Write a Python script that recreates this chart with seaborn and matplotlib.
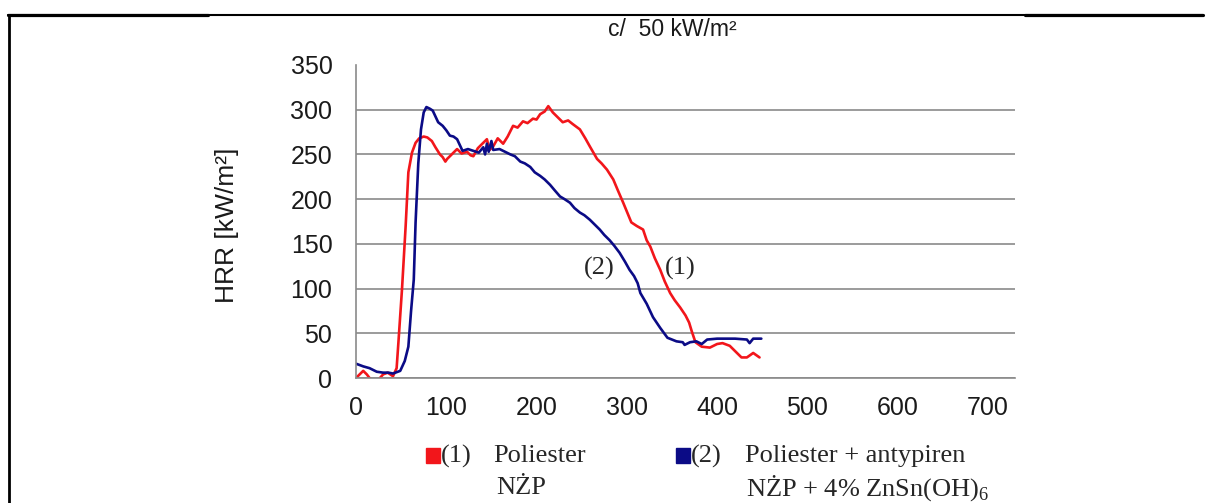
import matplotlib
matplotlib.use("Agg")
import matplotlib.pyplot as plt
import seaborn as sns
from matplotlib.lines import Line2D
from matplotlib.patches import Rectangle

# ============================================
# DATA
# ============================================

# (1) Poliester NZP
time_1 = [0, 4, 8, 12, 15, 19, 24, 30, 35, 41, 45, 47, 51, 55, 58, 62, 66, 70,
          75, 79, 84, 88, 93, 96, 99, 101, 106, 112, 117, 123, 127, 130, 135,
          140, 145, 148, 152, 157, 163, 168, 174, 179, 185, 190, 196, 200, 204,
          209, 213, 218, 223, 229, 235, 240, 244, 248, 254, 259, 263, 267, 272,
          278, 285, 290, 296, 305, 311, 318, 322, 326, 331, 337, 342, 348, 353,
          359, 365, 369, 372, 376, 383, 392, 400, 406, 414, 422, 427, 433, 440,
          447]
hrr_1 = [0, 4, 8, 4, 0, -3, -3, 4, 6, 2, 11, 40, 100, 170, 230, 252, 263, 268,
         270, 269, 265, 258, 250, 247, 242, 245, 250, 256, 251, 253, 249, 248,
         257, 262, 267, 255, 259, 268, 262, 270, 282, 280, 287, 285, 290, 289,
         295, 298, 304, 297, 292, 286, 288, 284, 281, 278, 268, 259, 252, 245,
         240, 233, 222, 210, 196, 174, 170, 166, 154, 147, 134, 121, 108, 95,
         87, 79, 70, 62, 52, 40, 35, 34, 38, 39, 36, 28, 23, 23, 28, 23]

# (2) Poliester + antypiren NZP + 4% ZnSn(OH)6
time_2 = [0, 8, 15, 23, 30, 36, 41, 49, 54, 58, 61, 64, 66, 69, 72, 75, 78, 82,
          85, 91, 96, 100, 104, 108, 112, 118, 124, 130, 136, 141, 143, 145,
          147, 150, 152, 159, 165, 171, 176, 182, 187, 193, 198, 204, 209, 215,
          220, 226, 231, 237, 242, 248, 253, 259, 264, 270, 275, 281, 286, 292,
          298, 303, 308, 312, 315, 322, 329, 337, 345, 355, 362, 364, 370, 377,
          383, 389, 400, 410, 420, 433, 436, 440, 449]
hrr_2 = [16, 13, 11, 7, 6, 6, 5, 8, 19, 35, 75, 110, 174, 240, 278, 297, 303,
         301, 299, 286, 282, 277, 271, 270, 267, 254, 256, 254, 252, 258, 250,
         262, 253, 265, 255, 256, 253, 250, 248, 242, 240, 236, 230, 226, 222,
         216, 210, 203, 200, 196, 190, 185, 182, 177, 172, 166, 160, 154, 148,
         140, 130, 121, 114, 106, 95, 83, 68, 56, 45, 41, 40, 37, 40, 41,
         38, 43, 44, 44, 44, 43, 39, 44, 44]

x_ticks = [0, 100, 200, 300, 400, 500, 600, 700]
y_ticks = [0, 50, 100, 150, 200, 250, 300, 350]

RED = "#f2161b"
BLUE = "#0b0b86"
GRAY = "#8a8a8a"

# ============================================
# FIGURE
# ============================================

sns.set_style("white")
plt.rcParams["font.family"] = ["Liberation Sans", "DejaVu Sans"]
plt.rcParams["mathtext.fontset"] = "custom"
plt.rcParams["mathtext.rm"] = "Liberation Serif"

W, H = 1209, 503
fig = plt.figure(figsize=(W / 100, H / 100), dpi=100)
ax = fig.add_axes([356 / W, 1 - 378 / H, (1015 - 356) / W, (378 - 65) / H])

sns.lineplot(x=time_1, y=hrr_1, ax=ax, color=RED, linewidth=1.9, estimator=None)
sns.lineplot(x=time_2, y=hrr_2, ax=ax, color=BLUE, linewidth=1.9, estimator=None)

ax.set_xlim(0, 730)
ax.set_ylim(0, 350)
ax.set_xticks(x_ticks)
ax.set_yticks(y_ticks)
ax.set_xlabel("")
ax.set_ylabel("")

# axes styling (Excel look)
for side in ["top", "right"]:
    ax.spines[side].set_visible(False)
for side in ["left", "bottom"]:
    ax.spines[side].set_color(GRAY)
    ax.spines[side].set_linewidth(1.2)
ax.grid(axis="y", color=GRAY, linewidth=1.2)
ax.get_ygridlines()[-1].set_visible(False)
ax.set_axisbelow(True)
ax.tick_params(axis="both", direction="out", length=5, width=1.2, color=GRAY,
               labelsize=18, labelcolor="#1a1a1a")
ax.tick_params(axis="y", pad=12)
ax.tick_params(axis="x", pad=8)

# curve labels
serif = ["Liberation Serif", "DejaVu Serif"]
ax.text(270, 123, "(2)", family=serif, fontsize=19, ha="center", va="center")
ax.text(359, 123, "(1)", family=serif, fontsize=19, ha="center", va="center")

# title and y label
fig.text(672 / W, 1 - 30 / H, "c/  50 kW/m²", ha="center", va="center",
         fontsize=16.5, color="#1a1a1a")
fig.text(227 / W, 1 - 225 / H, "HRR [kW/m²]", rotation=90, ha="center",
         va="center", fontsize=19, color="#1a1a1a")

# legend (hand laid out like the source)
fig.add_artist(Rectangle((426 / W, 1 - 463 / H), 14 / W, 15 / H,
                         transform=fig.transFigure, color=RED))
fig.add_artist(Rectangle((676 / W, 1 - 463 / H), 14 / W, 15 / H,
                         transform=fig.transFigure, color=BLUE))
leg_items = [
    (441, 456, "(1)"), (493, 456, "Poliester"), (496, 488, "NŻP"),
    (691, 456, "(2)"), (745, 456, "Poliester + antypiren"),
    (746, 488, "NŻP + 4% ZnSn(OH)$_6$"),
]
for px, py, txt in leg_items:
    fig.text(px / W, 1 - py / H, txt, family=serif, fontsize=19,
             ha="left", va="center")

# table cell frame around the figure
y_top = 1 - 15 / H
fig.add_artist(Line2D([8 / W, 1203 / W], [y_top, y_top], color="black", lw=1.5))
fig.add_artist(Line2D([8 / W, 208 / W], [y_top, y_top], color="black", lw=2.3))
fig.add_artist(Line2D([1025 / W, 1203 / W], [y_top, y_top], color="black", lw=2.3))
fig.add_artist(Line2D([9 / W, 9 / W], [0, y_top], color="black", lw=2.0))

fig.savefig("out.png", dpi=100)
